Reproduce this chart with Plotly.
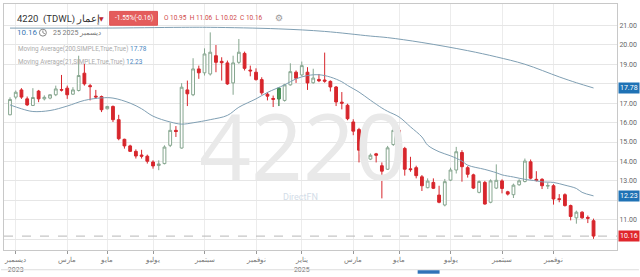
import plotly.graph_objects as go

# ---------------- data (weekly candles) ----------------
open_ = [16.40, 17.31, 17.68, 17.22, 16.88, 17.62, 17.22, 17.26, 17.43, 17.70,
         17.77, 17.46, 17.65, 18.54, 17.90, 17.36, 17.34, 16.71, 16.83, 16.15,
         15.14, 14.80, 14.52, 14.33, 14.27, 13.97, 13.79, 13.89, 14.83, 15.60,
         14.69, 17.68, 17.43, 18.76, 18.56, 18.50, 19.44, 19.15, 19.07, 18.04,
         19.10, 19.56, 18.70, 18.59, 18.21, 17.46, 17.24, 17.22, 17.14, 17.94,
         18.59, 18.45, 18.59, 18.05, 18.22, 18.19, 18.12, 17.83, 17.05, 16.89,
         16.03, 15.64, 14.58, 14.12, 14.39, 13.78, 13.60, 14.87, 15.60, 14.67,
         13.62, 13.68, 13.21, 12.65, 12.92, 12.27, 11.76, 13.04, 13.56, 14.46,
         13.68, 13.31, 12.41, 12.92, 11.90, 12.63, 13.00, 12.44, 12.29, 12.80,
         12.97, 13.98, 13.08, 13.08, 12.73, 12.75, 12.08, 12.29, 11.73, 11.10,
         11.39, 11.12, 10.95]
high = [17.30, 17.65, 17.77, 17.34, 17.77, 17.68, 17.40, 17.45, 17.90, 18.45,
        17.90, 17.82, 19.44, 19.02, 17.99, 17.68, 17.39, 16.86, 16.88, 16.40,
        15.17, 14.86, 14.62, 14.60, 14.35, 14.06, 14.06, 14.83, 15.99, 15.82,
        18.03, 18.16, 19.31, 18.93, 19.82, 20.64, 19.99, 19.36, 19.19, 19.44,
        20.30, 19.65, 18.93, 18.79, 18.33, 17.56, 17.39, 17.82, 17.99, 19.05,
        18.68, 19.14, 18.85, 18.77, 18.50, 19.60, 18.17, 17.88, 17.57, 16.97,
        16.17, 15.73, 14.67, 14.41, 14.44, 13.95, 14.80, 16.03, 15.73, 14.75,
        14.24, 13.78, 13.30, 13.13, 13.13, 12.75, 13.10, 13.68, 14.75, 14.58,
        13.76, 13.37, 13.03, 13.00, 13.08, 13.85, 13.08, 12.49, 12.86, 13.08,
        14.15, 14.10, 13.50, 13.14, 12.92, 12.83, 12.32, 12.36, 11.78, 11.47,
        11.44, 11.22, 11.06]
low = [16.38, 17.20, 17.22, 16.85, 16.85, 17.05, 17.14, 17.20, 17.36, 17.60,
       17.22, 17.43, 17.60, 17.90, 17.14, 17.22, 16.54, 16.68, 16.03, 15.09,
       14.66, 14.49, 14.15, 14.15, 13.89, 13.63, 13.55, 13.85, 14.74, 15.26,
       14.66, 16.85, 17.36, 18.25, 18.42, 18.42, 18.59, 18.16, 17.94, 17.43,
       19.02, 18.68, 18.38, 18.16, 17.43, 17.14, 16.80, 16.85, 17.08, 17.90,
       18.04, 18.38, 17.68, 18.00, 18.08, 18.05, 17.60, 16.85, 16.68, 16.12,
       15.35, 13.95, 13.95, 14.07, 13.95, 12.10, 13.56, 14.80, 14.58, 13.27,
       13.47, 13.13, 12.48, 12.62, 12.58, 11.85, 11.69, 12.99, 13.38, 12.96,
       13.17, 12.58, 12.36, 11.78, 11.85, 12.58, 12.36, 12.25, 12.12, 12.75,
       12.92, 13.08, 12.97, 12.58, 12.58, 11.78, 11.90, 11.68, 10.97, 10.80,
       11.05, 10.83, 10.02]
close = [17.19, 17.56, 17.31, 16.91, 17.29, 17.22, 17.30, 17.43, 17.73, 17.67,
         17.43, 17.68, 18.42, 17.99, 17.85, 17.32, 16.66, 16.83, 16.15, 15.17,
         14.80, 14.52, 14.28, 14.27, 14.01, 13.77, 13.87, 14.74, 15.60, 15.54,
         17.82, 17.48, 18.76, 18.56, 19.53, 19.62, 19.10, 19.08, 17.99, 19.07,
         19.62, 18.79, 18.66, 18.21, 17.53, 17.36, 17.20, 17.77, 17.94, 18.62,
         18.28, 18.93, 18.04, 18.29, 18.15, 18.13, 17.83, 17.06, 17.00, 16.20,
         15.56, 14.58, 14.12, 14.32, 14.32, 13.50, 14.70, 15.60, 14.67, 13.60,
         13.58, 13.27, 12.75, 12.99, 12.62, 11.90, 12.96, 13.56, 14.50, 13.73,
         13.34, 12.63, 12.97, 11.81, 13.00, 13.03, 12.61, 12.32, 12.78, 13.00,
         14.02, 13.14, 13.02, 12.75, 12.76, 12.07, 12.05, 11.73, 11.17, 11.39,
         11.10, 11.08, 10.16]
green_week = [47]  # one candle drawn with a solid green body

# moving averages, read at sample candles
ma200_idx = [0, 16, 30, 35, 47, 55, 63, 66, 72, 80, 85, 90, 96, 99, 102]
ma200_val = [20.86, 20.86, 20.90, 20.90, 20.82, 20.69, 20.45, 20.37, 20.12, 19.70,
             19.38, 19.00, 18.35, 18.05, 17.78]
ma21_idx = [0, 2, 4, 7, 10, 13, 16, 18, 21, 23, 25, 28, 30, 32, 35, 38, 40, 43, 45,
            48, 50, 52, 54, 56, 58, 59, 61, 63, 65, 66, 68, 70, 72, 73, 75, 77, 79,
            80, 83, 85, 86, 88, 90, 92, 93, 95, 97, 99, 100, 102]
ma21_val = [16.91, 16.71, 16.57, 16.62, 16.85, 17.14, 17.27, 17.26, 17.00, 16.71,
            16.33, 16.03, 15.92, 15.99, 16.15, 16.37, 16.79, 17.22, 17.55, 17.94,
            18.25, 18.42, 18.46, 18.34, 18.10, 17.91, 17.57, 17.15, 16.75, 16.58,
            16.29, 15.78, 15.26, 14.84, 14.50, 14.29, 14.02, 13.81, 13.59, 13.42,
            13.31, 13.20, 13.08, 13.00, 12.95, 12.92, 12.78, 12.61, 12.41, 12.23]

tick_idx = [1, 10, 17, 25, 34, 43, 51, 60, 68, 77, 86, 95]
tick_text = ["ديسمبر<br>2023", "مارس", "مايو", "يوليو", "سبتمبر", "نوفمبر",
             "يناير<br>2025", "مارس", "مايو", "يوليو", "سبتمبر", "نوفمبر"]
y_ticks = [10, 11, 12, 13, 14, 15, 16, 17, 18, 19, 20, 21]
y_hidden = [10, 12, 18]  # labels covered by the price boxes in the original

last_close = 10.16
ma200_last = 17.78
ma21_last = 12.23

# ---------------- figure ----------------
W, H = 640, 277
ML, MR, MT, MB = 3, 22, 4, 24
PW, PH = W - ML - MR, H - MT - MB


def px(x):
    return (x - ML) / PW


def py(y):
    return (H - MB - y) / PH


FONT = "Roboto"
UP_LINE = "#86a68f"
DOWN = "#d7262c"
MA_COL = "#7f9fb3"

idx = list(range(len(close)))
fig = go.Figure()

fig.add_trace(go.Scatter(x=ma200_idx, y=ma200_val, mode="lines",
                         line=dict(color=MA_COL, width=1, shape="spline"),
                         hoverinfo="skip", showlegend=False))
fig.add_trace(go.Scatter(x=ma21_idx, y=ma21_val, mode="lines",
                         line=dict(color=MA_COL, width=1, shape="spline"),
                         hoverinfo="skip", showlegend=False))

fig.add_trace(go.Candlestick(
    x=idx, open=open_, high=high, low=low, close=close,
    increasing=dict(line=dict(color=UP_LINE, width=1), fillcolor="#ffffff"),
    decreasing=dict(line=dict(color=DOWN, width=1), fillcolor=DOWN),
    whiskerwidth=0, showlegend=False))

gx = green_week
fig.add_trace(go.Candlestick(
    x=gx, open=[open_[i] for i in gx], high=[high[i] for i in gx],
    low=[low[i] for i in gx], close=[close[i] for i in gx],
    increasing=dict(line=dict(color="#3f8a4f", width=1), fillcolor="#4f9a5c"),
    decreasing=dict(line=dict(color=DOWN, width=1), fillcolor=DOWN),
    whiskerwidth=0, showlegend=False))

x_lo = -1.05
x_hi = 106.1
fig.update_layout(
    width=W, height=H, margin=dict(l=ML, r=MR, t=MT, b=MB),
    paper_bgcolor="white", plot_bgcolor="white",
    font=dict(family=FONT, size=7, color="#666"),
    xaxis=dict(range=[x_lo, x_hi], tickvals=tick_idx, ticktext=tick_text,
               showgrid=True, gridcolor="#ececec", gridwidth=1,
               ticks="outside", ticklen=3, tickcolor="#999",
               showline=True, linecolor="#c8c8c8", mirror=True,
               rangeslider=dict(visible=False), zeroline=False,
               tickfont=dict(size=7, color="#777")),
    yaxis=dict(range=[9.445, 22.1], side="right", tickvals=y_ticks,
               ticktext=["" if v in y_hidden else f"{v:.2f}" for v in y_ticks],
               showgrid=True, gridcolor="#e6e6e6", gridwidth=1,
               showline=True, linecolor="#c8c8c8", mirror=True,
               ticks="", zeroline=False, tickfont=dict(size=7, color="#666")),
)

# dashed last-price line
fig.add_shape(type="line", xref="paper", x0=0, x1=1, yref="y", y0=last_close, y1=last_close,
              line=dict(color="#b8b8b8", width=1, dash="dash"))

# bottom navigator hint
fig.add_shape(type="line", xref="paper", yref="paper", x0=px(0), x1=px(640), y0=py(273), y1=py(273),
              line=dict(color="#dddddd", width=1))
fig.add_shape(type="rect", xref="paper", yref="paper", x0=px(418), x1=px(440), y0=py(277), y1=py(273.5),
              line=dict(width=0), fillcolor="#2f73b8")

# watermark
fig.add_annotation(text="4220", xref="paper", yref="paper", x=px(303), y=py(147),
                   showarrow=False, font=dict(family="Open Sans", size=91, color="#e9e9e9"),
                   xanchor="center", yanchor="middle")
fig.add_annotation(text="DirectFN", xref="paper", yref="paper", x=px(300), y=py(199),
                   showarrow=False, font=dict(family=FONT, size=9, color="#d3dde8"),
                   xanchor="center", yanchor="middle")

# right-side value labels
for val, col in [(ma200_last, "#1f72b5"), (ma21_last, "#1f72b5"), (last_close, "#e0262c")]:
    fig.add_annotation(text=f"{val:.2f}", xref="paper", yref="y", x=1, y=val, xanchor="left",
                       xshift=1, showarrow=False, bgcolor=col, borderpad=1,
                       font=dict(family=FONT, size=7, color="white"))

# header
fig.add_annotation(text="4220  (TDWL) إعمار", xref="paper", yref="paper", x=px(14), y=py(19),
                   xanchor="left", yanchor="middle", showarrow=False,
                   font=dict(family=FONT, size=9.5, color="#333"))
fig.add_annotation(text="▼", xref="paper", yref="paper", x=px(101), y=py(19),
                   xanchor="center", yanchor="middle", showarrow=False,
                   font=dict(family="DejaVu Sans", size=6, color="#c0262c"))
fig.add_shape(type="rect", xref="paper", yref="paper", x0=px(109), x1=px(157), y0=py(25.5), y1=py(11.5),
              line=dict(color="#e05252", width=1), fillcolor="#e45c5c")
fig.add_annotation(text="-1.55%(-0.16)", xref="paper", yref="paper", x=px(133), y=py(18.5),
                   xanchor="center", yanchor="middle", showarrow=False,
                   font=dict(family=FONT, size=6.5, color="white"))
fig.add_annotation(text="O 10.95  H 11.06  L 10.02  C 10.16", xref="paper", yref="paper",
                   x=px(162), y=py(18.5), xanchor="left", yanchor="middle", showarrow=False,
                   font=dict(family=FONT, size=6.5, color="#d04a4a"))
fig.add_annotation(text="⚙", xref="paper", yref="paper", x=px(279), y=py(18.5),
                   xanchor="center", yanchor="middle", showarrow=False,
                   font=dict(family="DejaVu Sans", size=9, color="#999"))
fig.add_annotation(text="10.16", xref="paper", yref="paper", x=px(14), y=py(33),
                   xanchor="left", yanchor="middle", showarrow=False,
                   font=dict(family=FONT, size=8, color="#3a78b5"))
# clock icon
fig.add_shape(type="circle", xref="paper", yref="paper", x0=px(38.5), x1=px(45.5), y0=py(36.5), y1=py(29.5),
              line=dict(color="#888", width=1), fillcolor="white", layer="above")
fig.add_shape(type="path", xref="paper", yref="paper",
              path=f"M {px(42)} {py(30.8)} L {px(42)} {py(33)} L {px(44)} {py(34.2)}",
              line=dict(color="#888", width=1), layer="above")
fig.add_annotation(text="25 2025 ديسمبر", xref="paper", yref="paper", x=px(50), y=py(33),
                   xanchor="left", yanchor="middle", showarrow=False,
                   font=dict(family=FONT, size=7, color="#777"))
fig.add_annotation(text="Moving Average(200,SIMPLE,True,True)", xref="paper", yref="paper",
                   x=px(15), y=py(50), xanchor="left", yanchor="middle", showarrow=False,
                   font=dict(family=FONT, size=6.3, color="#aaaaaa"))
fig.add_annotation(text=f"{ma200_last:.2f}", xref="paper", yref="paper", x=px(127), y=py(50),
                   xanchor="left", yanchor="middle", showarrow=False,
                   font=dict(family=FONT, size=6.5, color="#4a86c0"))
fig.add_annotation(text="Moving Average(21,SIMPLE,True,True)", xref="paper", yref="paper",
                   x=px(15), y=py(63), xanchor="left", yanchor="middle", showarrow=False,
                   font=dict(family=FONT, size=6.3, color="#aaaaaa"))
fig.add_annotation(text=f"{ma21_last:.2f}", xref="paper", yref="paper", x=px(123), y=py(63),
                   xanchor="left", yanchor="middle", showarrow=False,
                   font=dict(family=FONT, size=6.5, color="#4a86c0"))

fig.write_html("out.html")
